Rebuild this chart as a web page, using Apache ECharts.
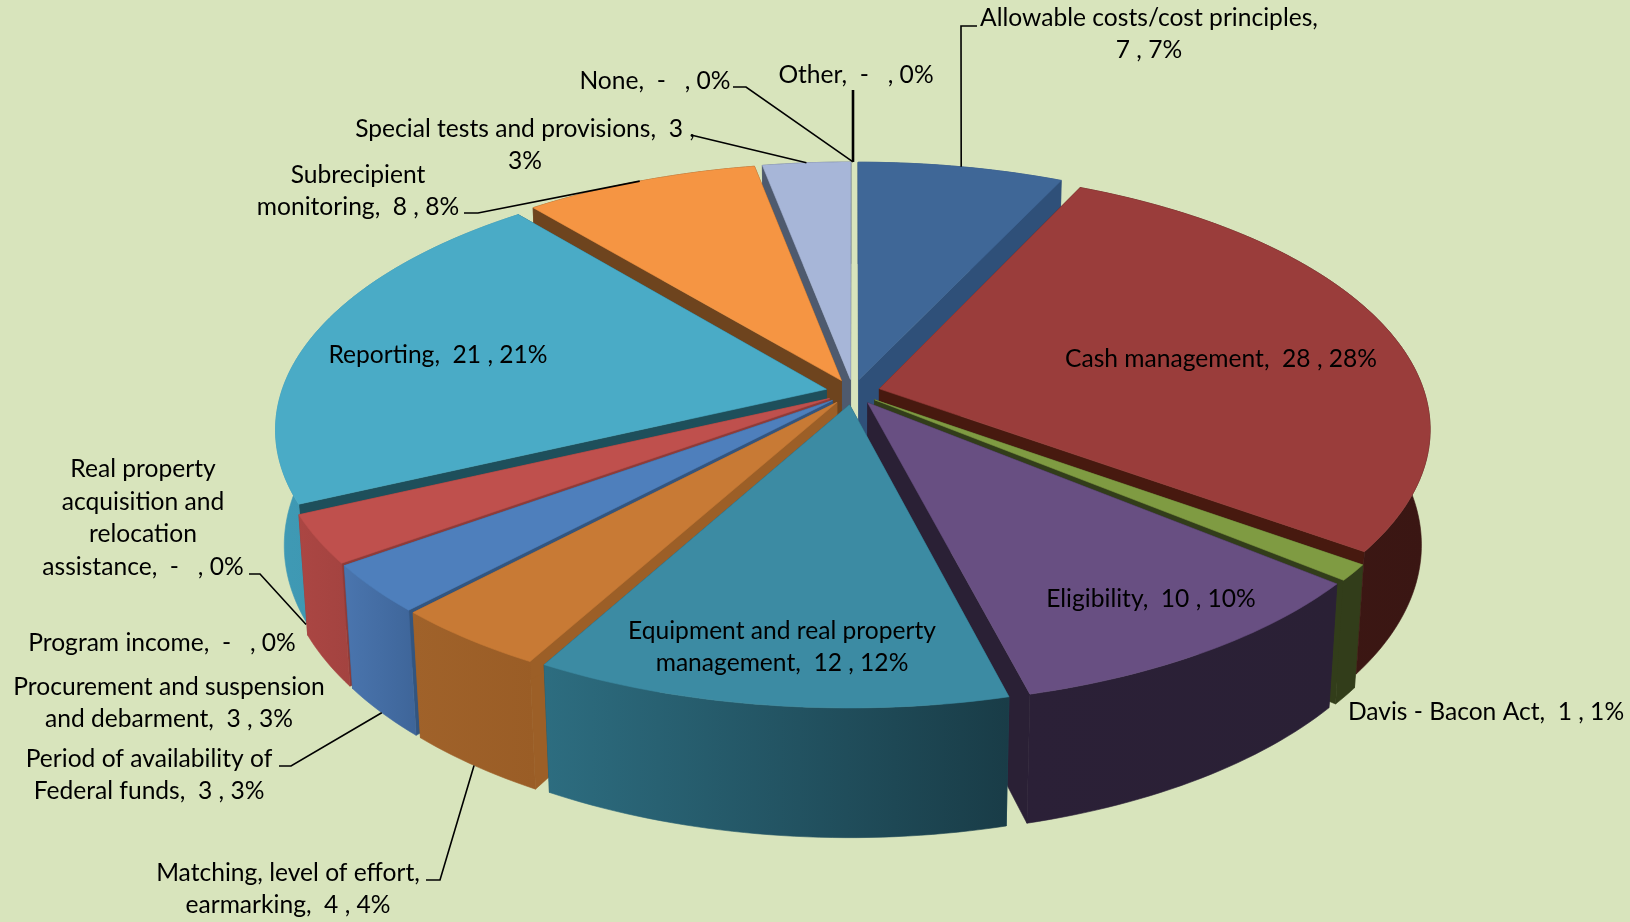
<!DOCTYPE html>
<html>
<head>
<meta charset="utf-8">
<title>Findings by compliance requirement</title>
<style>
  html, body { margin: 0; padding: 0; background: #d8e4bc; }
  #chart { width: 1630px; height: 922px; }
</style>
<script src="https://cdn.jsdelivr.net/npm/echarts@6/dist/echarts.min.js"></script>
</head>
<body>
<div id="chart"></div>
<script>
var categories = ["Allowable costs/cost principles", "Cash management", "Davis - Bacon Act", "Eligibility",
  "Equipment and real property management", "Matching, level of effort, earmarking", "Period of availability of Federal funds",
  "Procurement and suspension and debarment", "Program income", "Real property acquisition and relocation assistance",
  "Reporting", "Subrecipient monitoring", "Special tests and provisions", "None", "Other"];
var values = [7, 28, 1, 10, 12, 4, 3, 3, 0, 0, 21, 8, 3, 0, 0];
var labels = ["Allowable costs/cost principles,\n7 , 7%", "Cash management,  28 , 28%", "Davis - Bacon Act,  1 , 1%", "Eligibility,  10 , 10%",
  "Equipment and real property\nmanagement,  12 , 12%", "Matching, level of effort,\nearmarking,  4 , 4%", "Period of availability of\nFederal funds,  3 , 3%",
  "Procurement and suspension\nand debarment,  3 , 3%", "Program income,  -   , 0%", "Real property\nacquisition and\nrelocation\nassistance,  -   , 0%",
  "Reporting,  21 , 21%", "Subrecipient\nmonitoring,  8 , 8%", "Special tests and provisions,  3 ,\n3%", "None,  -   , 0%", "Other,  -   , 0%"];

var topColors = ["#3f6797", "#9a3d3b", "#7f9b42", "#684f82", "#3c8ba3", "#c87a35", "#4e7fbc", "#bf504d", "#bf504d", "#bf504d", "#4aabc6", "#f59543", "#a7b6d8", "#a7b6d8", "#a7b6d8"];
var cutColors = ["#2f5079", "#47190f", "#323d1a", "#2a2035", "#1f4d5c", "#9c5f27", "#33557f", "#8f3b38", "#8f3b38", "#8f3b38", "#1e4f5b", "#6e441e", "#4e5a6e", "#4e5a6e", "#4e5a6e"];
var wallColors = [["#2f5079", "#2f5079"], ["#401914", "#3a1613"], ["#323d1a", "#323d1a"], ["#2b2037", "#2a2035"], ["#2d6d80", "#193c47"],
  ["#a0622a", "#9a5d26"], ["#4a75ae", "#3e6599"], ["#ab4643", "#a34340"], ["#a34340", "#a34340"], ["#a34340", "#a34340"],
  ["#3f9ab5", "#3a8ba4"], ["#6e441e", "#6e441e"], ["#4e5a6e", "#4e5a6e"], ["#4e5a6e", "#4e5a6e"], ["#4e5a6e", "#4e5a6e"]];

// label centres, in page pixels
var labelPos = [[1149, 34], [1221, 359], [1486, 712], [1151, 599], [782, 647], [288, 889], [149, 775], [169, 703], [162, 643], [143, 518],
  [438, 355], [358, 191], [525, 145], [655, 81], [856, 75]];
// leaders: start of the line, elbow (or null), how far down the rim it lands, width
var leaders = {
  0: { from: [977, 26], elbow: [961, 26], z: 0, width: 1.6 },
  5: { from: [426, 880], elbow: [440, 880], z: 1, width: 1.6 },
  6: { from: [279, 766], elbow: [291, 766], z: 1, width: 1.6 },
  9: { from: [249, 574], elbow: [260, 574], z: 0.92, width: 1.6 },
  11: { from: [464, 213], elbow: [478, 213], z: 0, width: 1.6 },
  12: { from: [691, 135], elbow: null, z: 0, width: 1.6 },
  13: { from: [733, 87], elbow: [746, 87], z: 0, width: 1.6 },
  14: { from: [853, 90], elbow: null, z: 0, width: 2.6 }
};

// pie geometry
var CX = 853, CY = 392, RX = 545, RY = 253.6, DEPTH = 116, EXPLODE = 0.05, PERSP = 0.15, PERSP_Z = 0.015;

var total = values.reduce(function(a, b) { return a + b; }, 0);
var slices = [];
var cum = 0;
values.forEach(function(v) {
  var a = cum / total * Math.PI * 2;
  cum += v;
  var b = cum / total * Math.PI * 2;
  slices.push({ a: a, b: b, mid: (a + b) / 2 });
});

// far slices are painted first
var rank = {};
slices.map(function(s, i) { return i; }).sort(function(p, q) {
  return Math.cos(slices[q].mid) - Math.cos(slices[p].mid);
}).forEach(function(idx, r) { rank[idx] = r; });

function project(x, y, z) {
  var w = 1 + PERSP * y + PERSP_Z * z;
  return [CX + RX * x / w, CY - RY * y / w + DEPTH * z / w];
}
function point(s, r, t, z) {
  var ex = EXPLODE * Math.sin(s.mid), ey = EXPLODE * Math.cos(s.mid);
  return project(r * Math.sin(t) + ex, r * Math.cos(t) + ey, z);
}
function rimPoints(s, z) {
  var n = Math.max(2, Math.ceil((s.b - s.a) / 0.02));
  var pts = [];
  for (var i = 0; i <= n; i++) pts.push(point(s, 1, s.a + (s.b - s.a) * i / n, z));
  return pts;
}
function poly(points, fill, z2) {
  return { type: "polygon", z2: z2, shape: { points: points }, style: { fill: fill, stroke: fill, lineWidth: 0.6 } };
}

function renderSlice(params, api) {
  var i = params.dataIndex;
  if (!api.value(0)) return null;
  var s = slices[i], z2 = rank[i] * 10, kids = [];
  [s.a, s.b].forEach(function(t) {
    kids.push(poly([point(s, 0, t, 0), point(s, 1, t, 0), point(s, 1, t, 1), point(s, 0, t, 1)], cutColors[i], z2));
  });
  var top = rimPoints(s, 0), wall = top.concat(rimPoints(s, 1).reverse());
  kids.push(poly(wall, { type: "linear", x: 0, y: 0, x2: 1, y2: 0, colorStops: [
    { offset: 0, color: wallColors[i][0] }, { offset: 1, color: wallColors[i][1] }] }, z2 + 1));
  kids.push(poly([point(s, 0, s.a, 0)].concat(top), topColors[i], z2 + 2));
  return { type: "group", children: kids };
}

function renderLabel(params) {
  var i = params.dataIndex, kids = [], ld = leaders[i];
  if (ld) {
    var pts = [ld.from];
    if (ld.elbow) pts.push(ld.elbow);
    pts.push(point(slices[i], 1, slices[i].mid, ld.z));
    kids.push({ type: "polyline", z2: 500, shape: { points: pts }, style: { fill: null, stroke: "#000", lineWidth: ld.width } });
  }
  kids.push({ type: "text", z2: 501, style: {
    x: labelPos[i][0], y: labelPos[i][1], text: labels[i], fill: "#000", align: "center", verticalAlign: "middle",
    font: "24.6px Lato", lineHeight: 32.5 } });
  return { type: "group", children: kids };
}

var chart = echarts.init(document.getElementById("chart"), null, { renderer: "canvas" });
chart.setOption({
  animation: false,
  backgroundColor: "#d8e4bc",
  series: [
    { type: "custom", name: "slices", coordinateSystem: "none", silent: true, renderItem: renderSlice,
      data: values.map(function(v, i) { return { name: categories[i], value: [v] }; }), z: 1 },
    { type: "custom", name: "labels", coordinateSystem: "none", silent: true, renderItem: renderLabel,
      data: values.map(function(v, i) { return { name: categories[i], value: [v] }; }), z: 2 }
  ]
});
</script>
</body>
</html>
